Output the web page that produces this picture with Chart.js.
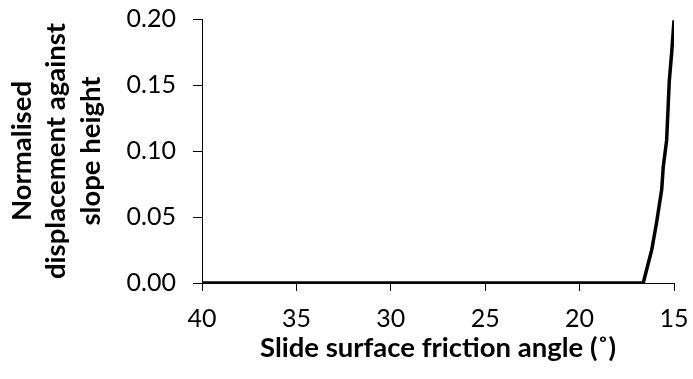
<!DOCTYPE html>
<html>
<head>
<meta charset="utf-8">
<script src="https://cdn.jsdelivr.net/npm/chart.js@4/dist/chart.umd.min.js"></script>
<style>
  html, body { margin: 0; padding: 0; background: #fff; }
  #wrap { width: 693px; height: 379px; }
</style>
</head>
<body>
<div id="wrap"><canvas id="chart" width="693" height="379"></canvas></div>
<script>
// Friction angle (deg) and normalised displacement
const frictionAngle = [40, 35, 30, 25, 20, 17, 16.63, 16.45, 16.18, 15.92, 15.65, 15.57, 15.39, 15.25, 15.12, 15.0];
const displacement  = [0, 0, 0, 0, 0, 0, 0, 0.010, 0.025, 0.046, 0.071, 0.088, 0.108, 0.153, 0.175, 0.199];

const xTicks = [40, 35, 30, 25, 20, 15];
const yTicks = [0, 0.05, 0.10, 0.15, 0.20];

const xTitle = "Slide surface friction angle (\u02DA)";
const yTitle = ["Normalised", "displacement against", "slope height"];

const points = frictionAngle.map((x, i) => ({ x: x, y: displacement[i] }));

const font = "Lato, 'Open Sans', sans-serif";

new Chart(document.getElementById("chart"), {
  type: "line",
  data: {
    datasets: [{
      data: points,
      borderColor: "#000",
      borderWidth: 3.5,
      pointRadius: 0,
      tension: 0,
      fill: false
    }]
  },
  options: {
    responsive: false,
    animation: false,
    layout: { padding: { top: 19, right: 19, left: 5, bottom: 0 } },
    plugins: { legend: { display: false }, tooltip: { enabled: false } },
    scales: {
      x: {
        type: "linear",
        reverse: true,
        min: 15,
        max: 40,
        afterBuildTicks: s => { s.ticks = xTicks.map(v => ({ value: v })); },
        afterFit: s => { s.height = 96; s.paddingLeft = 0; s.paddingRight = 0; },
        border: { display: true, color: "#000", width: 1 },
        grid: { drawOnChartArea: false, drawTicks: true, tickLength: 8, color: "#000" },
        ticks: { color: "#000", font: { family: font, size: 25 }, padding: 13, maxRotation: 0 },
        title: { display: true, text: xTitle, color: "#000", font: { family: font, size: 27.5, weight: "bold" }, padding: { top: 0, bottom: 14 } }
      },
      y: {
        min: 0,
        max: 0.2,
        afterBuildTicks: s => { s.ticks = yTicks.map(v => ({ value: v })); },
        afterFit: s => { s.width = 197; s.paddingTop = 0; s.paddingBottom = 0; },
        border: { display: true, color: "#000", width: 1 },
        grid: { drawOnChartArea: false, drawTicks: true, tickLength: 9, color: "#000" },
        ticks: { color: "#000", font: { family: font, size: 25 }, padding: 17, callback: v => v.toFixed(2) },
        title: { display: true, text: yTitle, color: "#000", font: { family: font, size: 27.5, weight: "bold", lineHeight: 1.25 }, padding: 0 }
      }
    }
  }
});
</script>
</body>
</html>
